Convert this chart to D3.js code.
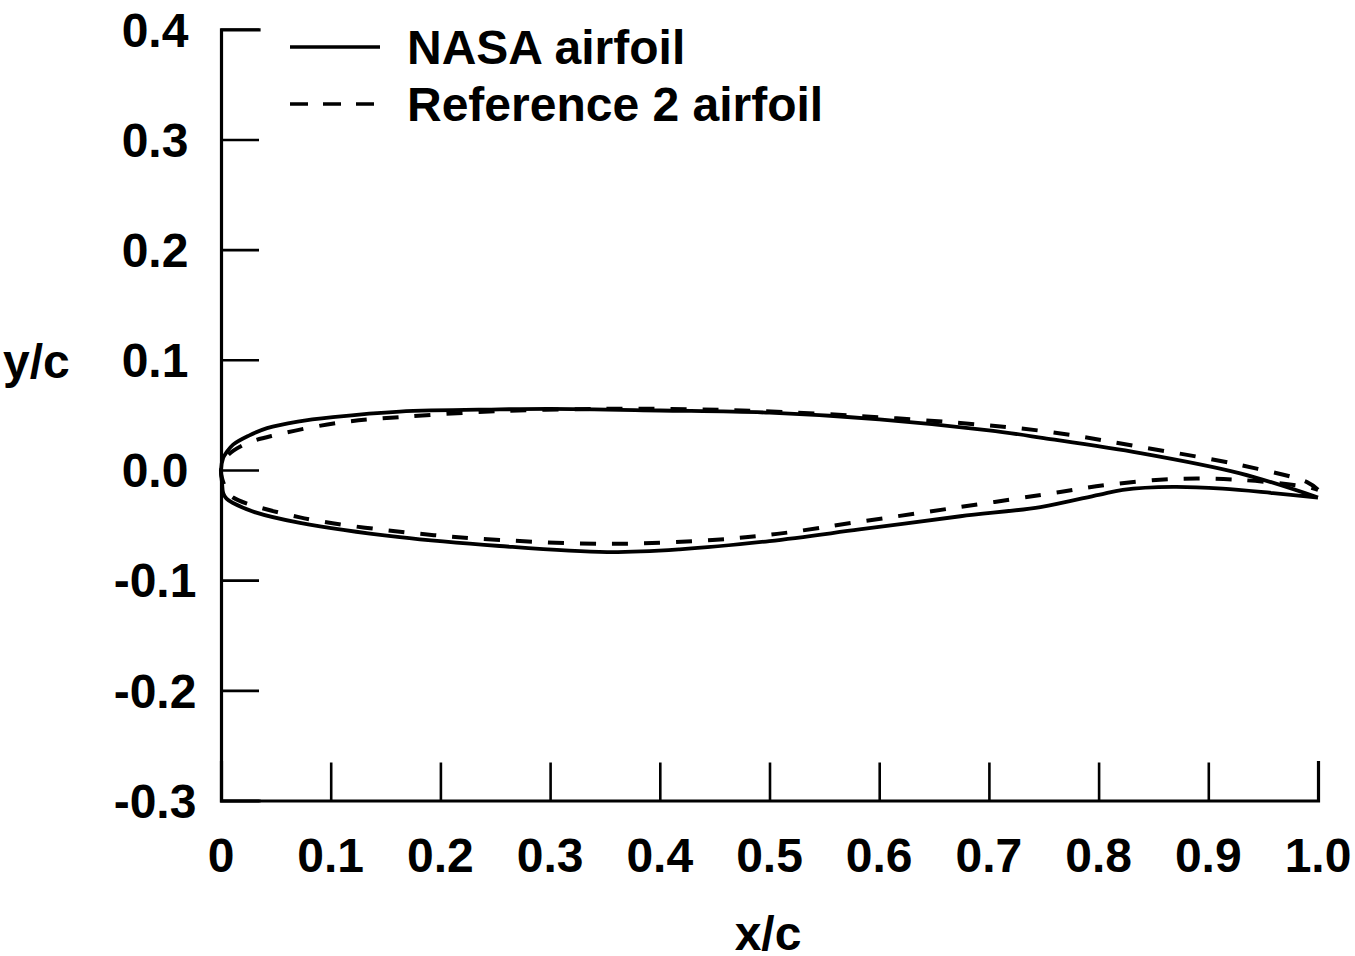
<!DOCTYPE html>
<html>
<head>
<meta charset="utf-8">
<script src="https://cdn.jsdelivr.net/npm/d3@7"></script>
<style>
  html, body { margin: 0; padding: 0; background: #fff; }
  svg text { font-family: "Liberation Sans", Arial, Helvetica, sans-serif; font-weight: bold; fill: #000; }
</style>
</head>
<body>
<svg id="chart" width="1355" height="956"></svg>
<script>
// NASA airfoil, upper and lower surfaces (x/c, y/c)
const nasaUpperX = [0, 0.002, 0.005, 0.011, 0.025, 0.042, 0.07, 0.102, 0.163, 0.254, 0.3, 0.4, 0.5, 0.6, 0.7, 0.75, 0.838, 0.929, 1.0];
const nasaUpperY = [0, 0.011, 0.016, 0.023, 0.031, 0.038, 0.044, 0.048, 0.053, 0.055, 0.0555, 0.054, 0.052, 0.046, 0.036, 0.029, 0.0154, -0.003, -0.025];
const nasaLowerX = [0, 0.001, 0.002, 0.005, 0.011, 0.03, 0.072, 0.163, 0.254, 0.352, 0.418, 0.5, 0.582, 0.674, 0.747, 0.8, 0.822, 0.868, 0.913, 0.959, 1.0];
const nasaLowerY = [0, -0.012, -0.021, -0.026, -0.030, -0.038, -0.048, -0.061, -0.069, -0.0745, -0.072, -0.0645, -0.054, -0.042, -0.0336, -0.0225, -0.018, -0.0154, -0.017, -0.021, -0.025];

// Reference 2 airfoil, upper and lower surfaces (x/c, y/c)
const refUpperX = [0, 0.005, 0.022, 0.051, 0.108, 0.163, 0.254, 0.35, 0.434, 0.491, 0.582, 0.674, 0.756, 0.838, 0.929, 0.99, 1.0];
const refUpperY = [0, 0.012, 0.0235, 0.032, 0.043, 0.048, 0.0535, 0.0555, 0.055, 0.0535, 0.049, 0.0426, 0.0345, 0.021, 0.0045, -0.011, -0.018];
const refLowerX = [0, 0.005, 0.011, 0.072, 0.163, 0.254, 0.357, 0.448, 0.507, 0.582, 0.674, 0.765, 0.807, 0.868, 0.929, 0.99, 1.0];
const refLowerY = [0, -0.018, -0.025, -0.043, -0.056, -0.0635, -0.067, -0.0635, -0.058, -0.047, -0.0336, -0.020, -0.0136, -0.0082, -0.009, -0.0154, -0.018];

// Axis ticks
const xTicks = [0, 0.1, 0.2, 0.3, 0.4, 0.5, 0.6, 0.7, 0.8, 0.9, 1.0];
const xTickLabels = ["0", "0.1", "0.2", "0.3", "0.4", "0.5", "0.6", "0.7", "0.8", "0.9", "1.0"];
const yTicks = [-0.3, -0.2, -0.1, 0.0, 0.1, 0.2, 0.3, 0.4];
const yTickLabels = ["-0.3", "-0.2", "-0.1", "0.0", "0.1", "0.2", "0.3", "0.4"];

const seriesNames = ["NASA airfoil", "Reference 2 airfoil"];

const svg = d3.select("#chart");

const x = d3.scaleLinear().domain([0, 1]).range([221, 1318]);
const y = d3.scaleLinear().domain([-0.3, 0.4]).range([800.5, 29.3]);

const tickLen = 38;
const labelSize = 48;

// Axes with inward ticks
const xAxis = d3.axisBottom(x).tickValues(xTicks).tickSize(-tickLen).tickFormat("");
const yAxis = d3.axisLeft(y).tickValues(yTicks).tickSize(-tickLen).tickFormat("");

const gx = svg.append("g").attr("transform", `translate(0,${y(-0.3)})`).call(xAxis);
const gy = svg.append("g").attr("transform", `translate(${x(0)},0)`).call(yAxis);
[gx, gy].forEach(g => {
  g.select(".domain").attr("stroke", "#000").attr("stroke-width", 3.2).attr("stroke-linecap", "square");
  g.selectAll(".tick line").attr("stroke", "#000").attr("stroke-width", 2.6);
});

// Tick labels
svg.append("g").selectAll("text").data(xTicks).join("text")
  .attr("x", d => x(d)).attr("y", 872)
  .attr("text-anchor", "middle").attr("font-size", labelSize)
  .text((d, i) => xTickLabels[i]);

svg.append("g").selectAll("text").data(yTicks).join("text")
  .attr("x", 155).attr("y", d => y(d)).attr("dy", "0.36em")
  .attr("text-anchor", "middle").attr("font-size", labelSize)
  .text((d, i) => yTickLabels[i]);

// Axis titles
svg.append("text").attr("x", 768).attr("y", 950).attr("text-anchor", "middle")
  .attr("font-size", labelSize).text("x/c");
svg.append("text").attr("x", 3).attr("y", 378).attr("text-anchor", "start")
  .attr("font-size", labelSize).text("y/c");

// Airfoil outlines: trailing edge -> upper surface -> leading edge -> lower surface -> trailing edge
function outline(ux, uy, lx, ly) {
  const upper = ux.map((v, i) => [v, uy[i]]).reverse();
  const lower = lx.map((v, i) => [v, ly[i]]).slice(1);
  return upper.concat(lower);
}
const line = d3.line().x(d => x(d[0])).y(d => y(d[1])).curve(d3.curveCatmullRom.alpha(0.5));

svg.append("path")
  .attr("d", line(outline(refUpperX, refUpperY, refLowerX, refLowerY)))
  .attr("fill", "none").attr("stroke", "#000").attr("stroke-width", 4)
  .attr("stroke-dasharray", "16,16");

svg.append("path")
  .attr("d", line(outline(nasaUpperX, nasaUpperY, nasaLowerX, nasaLowerY)))
  .attr("fill", "none").attr("stroke", "#000").attr("stroke-width", 3.8)
  .attr("stroke-linejoin", "round");

// Legend
const legend = svg.append("g");
const legendRows = [
  { y: 47, dash: null },
  { y: 104, dash: "18,15" }
];
legendRows.forEach((r, i) => {
  legend.append("line")
    .attr("x1", 290).attr("x2", 380 - (r.dash ? 6 : 0))
    .attr("y1", r.y).attr("y2", r.y)
    .attr("stroke", "#000").attr("stroke-width", 3.5)
    .attr("stroke-dasharray", r.dash);
  legend.append("text")
    .attr("x", 407).attr("y", r.y).attr("dy", "0.36em")
    .attr("font-size", labelSize)
    .text(seriesNames[i]);
});
</script>
</body>
</html>
